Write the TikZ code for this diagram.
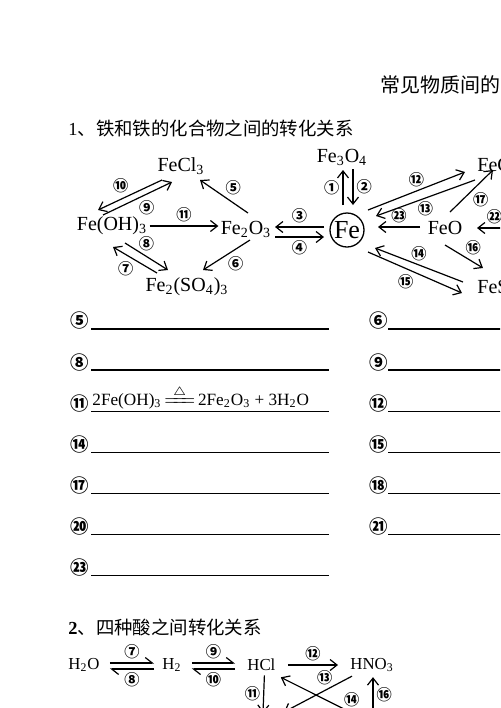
\documentclass[tikz,border=0pt]{standalone}
\usepackage{fontspec}
\usepackage{amsmath}
\setmainfont{Liberation Serif}
\newfontfamily\cjk{Noto Sans CJK SC}
\usetikzlibrary{arrows.meta,calc}
\newcommand{\chsub}[1]{\textsubscript{#1}}
\newcommand{\heateq}{{\ooalign{$=\!\!=\!\!=$\cr\hidewidth\raisebox{5pt}{$\scriptstyle\triangle$}\hidewidth\cr}}}

\begin{document}
\begin{tikzpicture}[x=0.5pt,y=-0.5pt,>={Straight Barb[length=3.5pt,width=5.5pt]},
  chem/.style={inner sep=1pt,font=\fontsize{10}{12}\selectfont},
  acid/.style={inner sep=1pt,font=\fontsize{8.4}{10}\selectfont},
  num/.style={inner sep=0.5pt,font=\cjk\bfseries\fontsize{7.6}{8}\selectfont},
  bignum/.style={inner sep=0pt,font=\cjk\bfseries\fontsize{9.2}{10}\selectfont},
  conv/.style={->,line width=0.6pt},
  rev/.style={-{Straight Barb[harpoon,length=3.5pt,width=5.5pt]},line width=0.6pt},
  blankline/.style={line width=0.65pt}]
\useasboundingbox (0,0) rectangle (500,708);
\clip (0,0) rectangle (500,708);

\node[anchor=west,inner sep=0pt,font=\cjk\fontsize{10}{12}\selectfont] (title) at (380,85) {常见物质间的};
\node[anchor=west,inner sep=0pt,font=\fontsize{9.2}{11}\selectfont] (sec1) at (68,128) {1{\cjk 、铁和铁的化合物之间的转化关系}};

\node[chem] (cl3) at (181,166) {FeCl\chsub{3}};
\node[chem] (ohh) at (112,226) {Fe(OH)\chsub{3}};
\node[chem] (o3) at (246,229) {Fe\chsub{2}O\chsub{3}};
\node[chem] (so43) at (187,287) {Fe\chsub{2}(SO\chsub{4})\chsub{3}};
\node[chem] (o4) at (342,157) {Fe\chsub{3}O\chsub{4}};
\node[draw,circle,line width=0.65pt,minimum size=17pt,inner sep=0pt,font=\fontsize{13}{13}\selectfont] (fe) at (347,230) {Fe};
\node[chem,anchor=west] (cl2) at (475,165) {FeC};
\node[chem] (feo) at (445,228) {FeO};
\node[chem,anchor=west] (so4) at (475,287) {FeS};
\coordinate (r22) at (512,228);

\draw[conv] ($(ohh)+(-9,-11)$) -- node[num,below right=0pt]{⑨} ($(cl3)+(-9,16)$);
\draw[conv] ($(cl3)+(-19,14)$) -- node[num,above left=0pt]{⑩} ($(ohh)+(-14,-16)$);
\draw[conv] (ohh.east) -- node[num,above=1pt]{⑪} (ohh.east -| o3.west);
\draw[conv] ($(so43)+(-30,-14)$) -- node[num,below left=0pt]{⑦} ($(ohh)+(1,21)$);
\draw[conv] ($(ohh)+(13,17)$) -- node[num,above=2pt]{⑧} ($(so43)+(-19,-17)$);
\draw[conv] ($(o3)+(2,-16)$) -- node[num,above right=0pt]{⑤} ($(cl3)+(19,14)$);
\draw[conv] ($(o3)+(4,11)$) -- node[num,below right=0pt]{⑥} ($(so43)+(16,-17)$);
\draw[conv] ($(fe)+(-23,-3)$) -- node[num,above=1pt]{③} ($(o3)+(29,-2)$);
\draw[conv] ($(o3)+(29,8)$) -- node[num,below=1pt]{④} ($(fe)+(-23,7)$);
\draw[conv] ($(fe)+(-4,-25)$) -- node[num,left=1pt]{①} ($(o4)+(1,13)$);
\draw[conv] ($(o4)+(11,12)$) -- node[num,right=1pt]{②} ($(fe)+(6,-25)$);
\draw[conv] ($(fe)+(21,-20)$) -- node[num,above=1pt]{⑫} ($(cl2.west)+(-10,7)$);
\draw[conv] ($(cl2.west)+(0,15)$) -- node[num,below=1pt]{⑬} ($(fe)+(29,-14)$);
\draw[conv] ($(feo)+(-25,-1)$) -- node[num,above=1pt]{㉓} ($(fe)+(31,-3)$);
\draw[conv] ($(feo)+(5,-16)$) -- node[num,below right=0pt]{⑰} ($(cl2.west)+(18,5)$);
\draw[conv] (r22) -- node[num,above=1pt]{㉒} ($(feo)+(32,0)$);
\draw[conv] ($(feo)+(0,17)$) -- node[num,above right=0pt]{⑯} ($(so4.west)+(8,-19)$);
\draw[conv] ($(so4.west)+(-12,-5)$) -- node[num,above=1pt]{⑭} ($(fe)+(28,18)$);
\draw[conv] ($(fe)+(21,22)$) -- node[num,below left=0pt]{⑮} ($(so4.west)+(-13,6)$);

\foreach \n [count=\i from 0] in {⑤,⑧,⑪,⑭,⑰,⑳,㉓}{
  \node[bignum] (a\i) at (80,{321+41.1*\i}) {\n};
  \draw[blankline] ($(a\i)+(11,8)$) -- ++(238,0);
}
\foreach \n [count=\i from 0] in {⑥,⑨,⑫,⑮,⑱,㉑}{
  \node[bignum] (b\i) at (379,{321+41.1*\i}) {\n};
  \draw[blankline] ($(b\i)+(9,8)$) -- ++(125,0);
}
\node[anchor=west,inner sep=0pt,font=\fontsize{8.6}{10}\selectfont] (eq11) at (92,401) {2Fe(OH)\chsub{3}\,\heateq\,2Fe\chsub{2}O\chsub{3} + 3H\chsub{2}O};

\node[anchor=west,inner sep=0pt,font=\fontsize{9.2}{11}\selectfont] (sec2) at (68,627) {\textbf{2}{\cjk 、四种酸之间转化关系}};
\node[acid,anchor=west] (h2o) at (66,665) {H\chsub{2}O};
\node[acid,anchor=west] (h2) at (160,665) {H\chsub{2}};
\node[acid,anchor=west] (hcl) at (245,665) {HCl};
\node[acid,anchor=west] (hno3) at (348,665) {HNO\chsub{3}};
\coordinate (d11) at (263,713);
\coordinate (d13) at (284,712);
\coordinate (d14) at (358,716);
\coordinate (u16) at (373,716);

\draw[rev] ($(h2o.east)+(8,-2)$) -- node[num,above=1pt]{⑦} ($(h2.west)+(-6,-2)$);
\draw[rev] ($(h2.west)+(-6,4)$) -- node[num,below=1pt]{⑧} ($(h2o.east)+(8,4)$);
\draw[rev] ($(h2.east)+(8,-2)$) -- node[num,above=1pt]{⑨} ($(hcl.west)+(-10,-2)$);
\draw[rev] ($(hcl.west)+(-10,4)$) -- node[num,below=1pt]{⑩} ($(h2.east)+(8,4)$);
\draw[conv] ($(hcl.east)+(10,0)$) -- node[num,above=1pt]{⑫} ($(hno3.west)+(-10,0)$);
\draw[conv] ($(hcl.south)+(3,2)$) -- node[num,left=1pt]{⑪} (d11);
\draw[conv] ($(hno3.south west)+(4,2)$) -- node[num,above=2pt,pos=0.4]{⑬} (d13);
\draw[conv] (d14) -- node[num,above right=0pt,pos=0.2]{⑭} ($(hcl.south east)+(3,4)$);
\draw[conv] (u16) -- node[num,right=1pt,pos=0.55]{⑯} ($(u16 |- hno3.south)+(0,3)$);
\end{tikzpicture}
\end{document}
